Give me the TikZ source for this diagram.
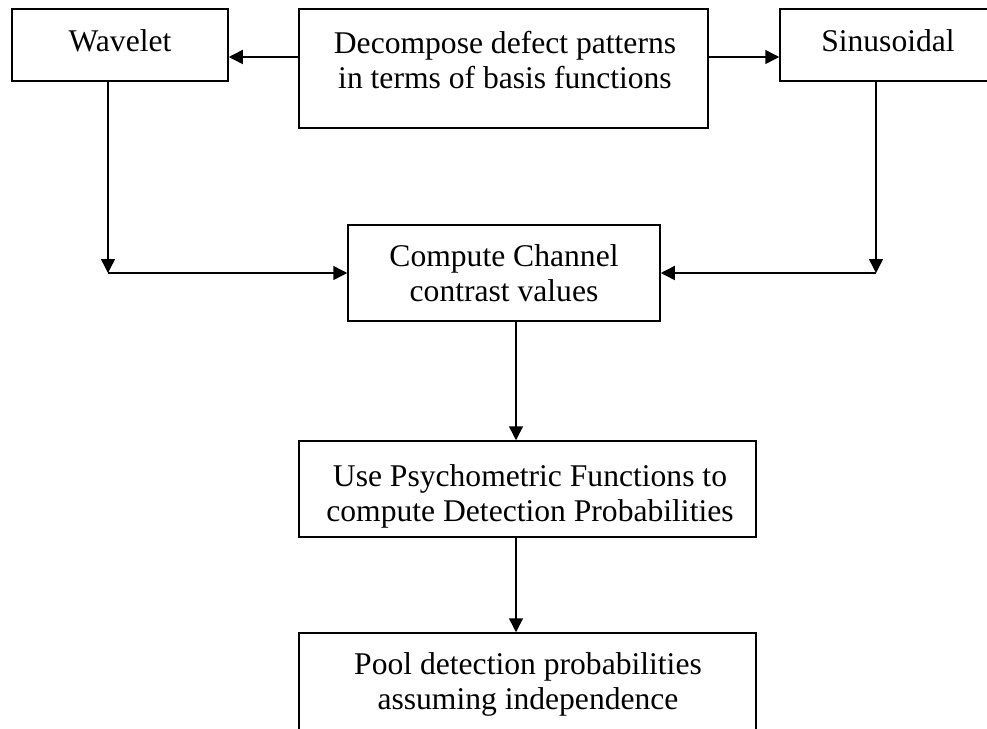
\documentclass[tikz,border=0pt]{standalone}
\usepackage{fontspec}
\setmainfont{Liberation Serif}
\usetikzlibrary{arrows.meta}
\begin{document}
\begin{tikzpicture}[x=1pt,y=-1pt,
  box/.style={draw=black, line width=1.5pt, minimum width=#1, inner sep=0pt},
  lbl/.style={anchor=north, inner sep=0pt, align=center, font=\fontsize{31.6}{35}\selectfont},
  arr/.style={line width=1.5pt, -{Triangle[length=14pt,width=14pt]}}]
\clip (0,0) rectangle (987,728);
% boxes
\node[box=216pt, minimum height=72pt] (wav) at (120,45) {};
\node[box=409pt, minimum height=119pt] (dec) at (503.5,68.5) {};
\node[box=216pt, minimum height=72pt] (sin) at (888,45) {};
\node[box=312pt, minimum height=96pt] (com) at (504,273) {};
\node[box=457pt, minimum height=96pt] (psy) at (527.5,489) {};
\node[box=457pt, minimum height=110pt] (pool) at (527.5,688) {};
% texts
\node[lbl] (twav) at (120,29) {Wavelet};
\node[lbl] (tdec) at (505,31) {Decompose defect patterns\\in terms of basis functions};
\node[lbl] (tsin) at (888,29) {Sinusoidal};
\node[lbl] (tcom) at (504,244) {Compute Channel\\contrast values};
\node[lbl] (tpsy) at (530,464) {Use Psychometric Functions to\\compute Detection Probabilities};
\node[lbl] (tpool) at (528,652) {Pool detection probabilities\\assuming independence};
% helper coordinates
\coordinate (top) at (0,57);
\coordinate (wl) at (108,273);
\coordinate (sr) at (876,273);
\coordinate (cx) at (516,0);
% connectors
\draw[arr] (dec.west |- top) -- (wav.east |- top);
\draw[arr] (dec.east |- top) -- (sin.west |- top);
\draw[arr] (wav.south -| wl) -- (wl);
\draw[arr] (wl) -- (com.west);
\draw[arr] (sin.south -| sr) -- (sr);
\draw[arr] (sr) -- (com.east);
\draw[arr] (com.south -| cx) -- (psy.north -| cx);
\draw[arr] (psy.south -| cx) -- (pool.north -| cx);
\end{tikzpicture}
\end{document}
